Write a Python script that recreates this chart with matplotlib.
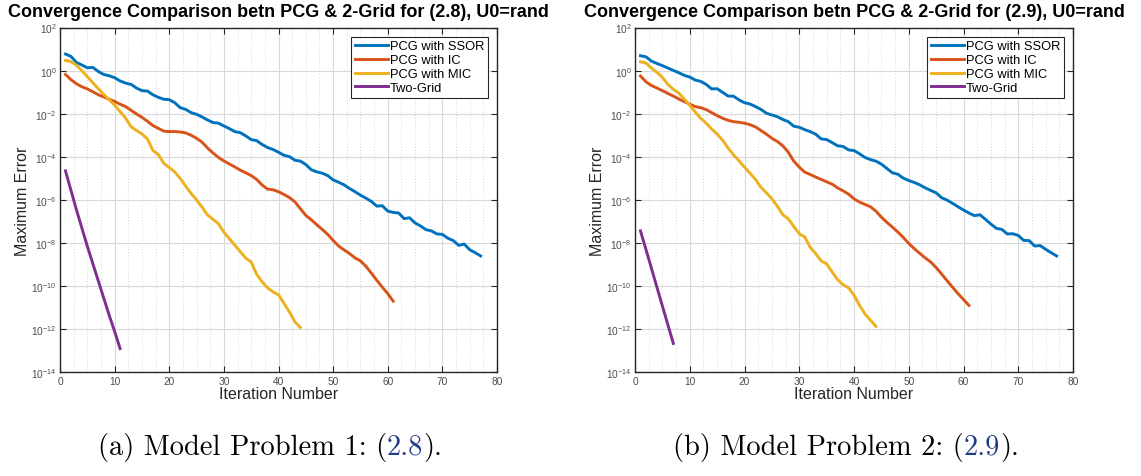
import numpy as np
import matplotlib
matplotlib.use("Agg")
import matplotlib.pyplot as plt
from matplotlib.ticker import MultipleLocator, FixedLocator, NullLocator

plt.rcParams['font.family'] = ['Liberation Sans', 'DejaVu Sans']

# ---------------- data (log10 of maximum error, iterations start at 1) ----------------
series_names = ["PCG with SSOR", "PCG with IC", "PCG with MIC", "Two-Grid"]
series_colors = ["#0072BD", "#D95319", "#EDB120", "#7E2F8E"]

p1_ssor_log10 = [0.77, 0.66, 0.38, 0.26, 0.13, 0.15, -0.04, -0.18, -0.24, -0.33,
                 -0.48, -0.58, -0.64, -0.81, -0.93, -0.95, -1.12, -1.24, -1.33, -1.35,
                 -1.49, -1.72, -1.80, -1.95, -2.03, -2.15, -2.29, -2.41, -2.44, -2.57,
                 -2.69, -2.83, -2.88, -3.03, -3.20, -3.25, -3.43, -3.57, -3.66, -3.79,
                 -3.93, -3.99, -4.16, -4.20, -4.36, -4.60, -4.70, -4.76, -4.87, -5.07,
                 -5.18, -5.30, -5.47, -5.62, -5.78, -5.92, -6.07, -6.29, -6.27, -6.52,
                 -6.58, -6.61, -6.87, -6.83, -7.07, -7.21, -7.38, -7.44, -7.58, -7.60,
                 -7.78, -7.89, -8.11, -8.05, -8.31, -8.45, -8.60]
p1_ic_log10 = [-0.18, -0.42, -0.61, -0.75, -0.85, -0.98, -1.12, -1.22, -1.33, -1.43,
               -1.56, -1.67, -1.84, -2.01, -2.17, -2.35, -2.55, -2.68, -2.81, -2.83,
               -2.83, -2.85, -2.89, -3.00, -3.14, -3.32, -3.59, -3.82, -4.03, -4.19,
               -4.33, -4.47, -4.62, -4.74, -4.87, -5.05, -5.31, -5.50, -5.53, -5.62,
               -5.75, -5.89, -6.09, -6.41, -6.72, -6.92, -7.15, -7.37, -7.60, -7.88,
               -8.14, -8.32, -8.49, -8.69, -8.83, -9.08, -9.40, -9.73, -10.05, -10.35,
               -10.70]
p1_mic_log10 = [0.47, 0.42, 0.25, 0.00, -0.28, -0.56, -0.84, -1.10, -1.35, -1.60,
                -1.90, -2.20, -2.60, -2.78, -2.94, -3.17, -3.70, -3.90, -4.30, -4.50,
                -4.70, -5.00, -5.36, -5.70, -6.00, -6.33, -6.70, -6.90, -7.10, -7.50,
                -7.80, -8.10, -8.40, -8.70, -8.88, -9.45, -9.80, -10.08, -10.27, -10.40,
                -10.80, -11.20, -11.66, -11.92]
p1_tg_log10 = [-4.65, -5.55, -6.45, -7.30, -8.15, -8.95, -9.75, -10.55, -11.35, -12.10, -12.90]

p2_ssor_log10 = [0.69, 0.64, 0.44, 0.33, 0.23, 0.12, 0.01, -0.10, -0.22, -0.30,
                 -0.44, -0.50, -0.64, -0.85, -0.84, -1.01, -1.18, -1.19, -1.36, -1.49,
                 -1.55, -1.67, -1.80, -1.98, -2.06, -2.14, -2.27, -2.37, -2.58, -2.63,
                 -2.74, -2.83, -2.95, -3.17, -3.20, -3.34, -3.49, -3.52, -3.68, -3.71,
                 -3.86, -4.03, -4.13, -4.20, -4.34, -4.54, -4.74, -4.81, -4.99, -5.10,
                 -5.19, -5.30, -5.44, -5.56, -5.67, -5.90, -6.01, -6.16, -6.32, -6.47,
                 -6.61, -6.73, -6.69, -6.90, -7.12, -7.32, -7.37, -7.58, -7.57, -7.65,
                 -7.88, -7.89, -8.14, -8.12, -8.29, -8.45, -8.60]
p2_ic_log10 = [-0.25, -0.52, -0.69, -0.81, -0.93, -1.06, -1.18, -1.32, -1.44, -1.56,
               -1.67, -1.72, -1.81, -1.95, -2.09, -2.21, -2.31, -2.37, -2.40, -2.44,
               -2.51, -2.61, -2.78, -2.95, -3.14, -3.29, -3.49, -3.79, -4.20, -4.48,
               -4.71, -4.82, -4.94, -5.05, -5.16, -5.27, -5.44, -5.58, -5.73, -5.95,
               -6.10, -6.21, -6.32, -6.52, -6.80, -7.04, -7.26, -7.49, -7.74, -8.02,
               -8.26, -8.48, -8.69, -8.88, -9.14, -9.44, -9.75, -10.05, -10.35, -10.62,
               -10.90]
p2_mic_log10 = [0.41, 0.35, 0.12, -0.08, -0.31, -0.64, -0.87, -1.04, -1.32, -1.61,
                -1.92, -2.21, -2.44, -2.71, -2.94, -3.23, -3.59, -3.91, -4.19, -4.48,
                -4.76, -5.05, -5.41, -5.67, -5.95, -6.29, -6.69, -6.88, -7.23, -7.57,
                -7.72, -8.20, -8.49, -8.83, -8.97, -9.34, -9.70, -9.93, -10.08, -10.42,
                -10.89, -11.29, -11.58, -11.87]
p2_tg_log10 = [-7.44, -8.30, -9.17, -10.05, -10.92, -11.79, -12.66]

titles = ["Convergence Comparison betn PCG & 2-Grid for (2.8), U0=rand",
          "Convergence Comparison betn PCG & 2-Grid for (2.9), U0=rand"]
xlabel = "Iteration Number"
ylabel = "Maximum Error"
caption_parts = [("(a) Model Problem 1: (", "2.8", ")."),
                 ("(b) Model Problem 2: (", "2.9", ").")]
x_ticks = [0, 10, 20, 30, 40, 50, 60, 70, 80]
y_tick_exps = [2, 0, -2, -4, -6, -8, -10, -12, -14]

panels = [
    [p1_ssor_log10, p1_ic_log10, p1_mic_log10, p1_tg_log10],
    [p2_ssor_log10, p2_ic_log10, p2_mic_log10, p2_tg_log10],
]

# ---------------- figure ----------------
W, H = 1141, 477
fig = plt.figure(figsize=(W / 100, H / 100), dpi=100)

ax_color = (0.15, 0.15, 0.15)
ax_rects = [
    [60 / W, 1 - 373.3 / H, 437 / W, (373.3 - 28.5) / H],
    [635 / W, 1 - 373.3 / H, 438 / W, (373.3 - 28.5) / H],
]

for k, (rect, series) in enumerate(zip(ax_rects, panels)):
    ax = fig.add_axes(rect)
    for vals, name, col in zip(series, series_names, series_colors):
        it = np.arange(1, len(vals) + 1)
        ax.semilogy(it, 10.0 ** np.asarray(vals), color=col, lw=2.1, label=name,
                    solid_joinstyle='round')
    ax.set_xlim(0, 80)
    ax.set_ylim(1e-14, 1e2)
    ax.set_xticks(x_ticks)
    ax.xaxis.set_minor_locator(MultipleLocator(2.5))
    ax.yaxis.set_major_locator(FixedLocator([10.0 ** e for e in y_tick_exps]))
    ax.yaxis.set_minor_locator(NullLocator())
    ax.grid(True, which='major', color=(0.85, 0.85, 0.85), lw=0.8)
    ax.grid(True, which='minor', axis='x', color=(0.8, 0.8, 0.8), lw=0.6, ls=(0, (1, 2.5)))
    ax.set_axisbelow(True)
    ax.tick_params(which='major', direction='in', length=4, width=0.8, top=True, right=True,
                   labelsize=7.3, colors=ax_color, labelcolor=(0.3, 0.3, 0.3), pad=2.5)
    ax.tick_params(which='minor', length=0, top=True, right=True)
    for s in ax.spines.values():
        s.set_color(ax_color)
        s.set_linewidth(1.0)
    ax.set_title(titles[k], fontsize=13, fontweight='bold', pad=8.5)
    ax.set_xlabel(xlabel, fontsize=11.5, color=ax_color, labelpad=0)
    ax.set_ylabel(ylabel, fontsize=11.5, color=ax_color, labelpad=1)
    leg = ax.legend(loc='upper right', fontsize=9.3, frameon=True, fancybox=False,
                    edgecolor=ax_color, framealpha=1, labelspacing=0.14, handlelength=2.55,
                    handletextpad=0.15, borderpad=0.3, borderaxespad=0.7)
    leg.get_frame().set_linewidth(0.8)

# ---------------- captions ----------------
renderer = fig.canvas.get_renderer()
cap_centers = [270 / W, 846 / W]
cap_y = 1 - 455 / H
for (a, b, c), cx in zip(caption_parts, cap_centers):
    pieces = [(a, 'black'), (b, '#1f3c88'), (c, 'black')]
    texts = [fig.text(0, cap_y, s, fontsize=20.5, family='cmr10', color=col, va='baseline')
             for s, col in pieces]
    widths = [t.get_window_extent(renderer).width / W for t in texts]
    x = cx - sum(widths) / 2
    for t, w in zip(texts, widths):
        t.set_x(x)
        x += w

fig.savefig("out.png", dpi=100)
